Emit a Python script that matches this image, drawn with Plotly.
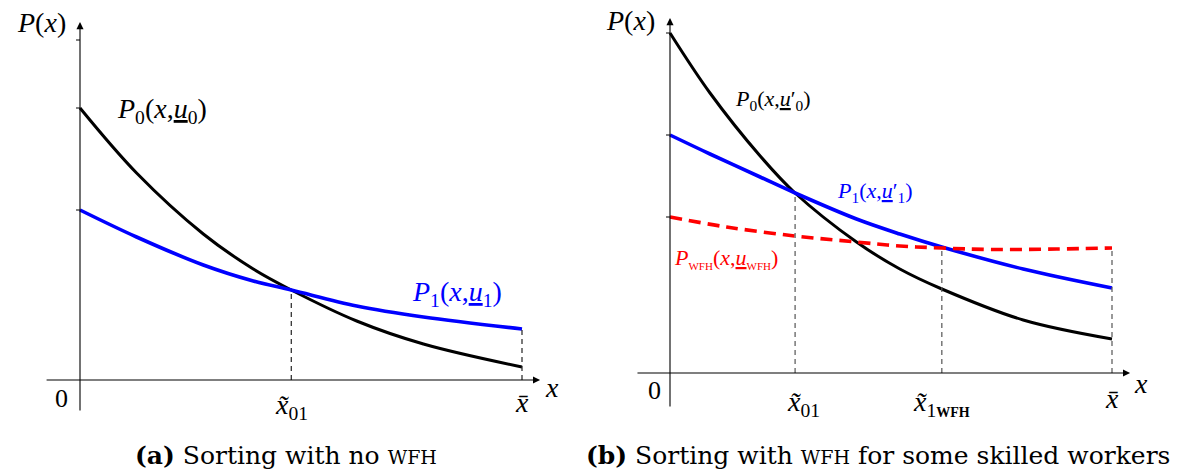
import plotly.graph_objects as go

# ---------------- data ----------------
# panel (a): x normalised so that x-bar = 1
a_x = [0, 0.128, 0.279, 0.392, 0.478, 0.626, 0.777, 1.0]
a_p0 = [2.72, 2.07, 1.46, 1.11, 0.90, 0.59, 0.36, 0.13]
a_p1 = [1.70, 1.43, 1.15, 0.99, 0.90, 0.74, 0.63, 0.51]
a_x01 = 0.478
a_ticks_y = [3.40, 2.72, 1.70]

# panel (b)
b_x = [0, 0.0905, 0.204, 0.283, 0.422, 0.520, 0.615, 0.799, 1.0]
b_p0 = [3.40, 2.80, 2.17, 1.80, 1.31, 1.04, 0.84, 0.53, 0.34]
b_p1 = [2.38, 2.19, 1.96, 1.80, 1.54, 1.39, 1.26, 1.04, 0.85]
b_xr = [0, 0.128, 0.283, 0.422, 0.520, 0.615, 0.724, 0.875, 1.0]
b_pw = [1.56, 1.46, 1.37, 1.31, 1.27, 1.25, 1.235, 1.24, 1.25]
b_x01 = 0.283
b_x1w = 0.615
b_ticks_y = [3.40, 2.38, 1.56]

W, H = 1181, 476
MATH = "Liberation Serif"
CAP = "DejaVu Serif"
BLUE = "rgb(0,0,255)"
RED = "rgb(255,0,0)"

fig = go.Figure()

# curves
fig.add_trace(go.Scatter(x=a_x, y=a_p0, mode="lines", line=dict(color="black", width=3, shape="spline"),
                         xaxis="x", yaxis="y", showlegend=False, hoverinfo="skip"))
fig.add_trace(go.Scatter(x=a_x, y=a_p1, mode="lines", line=dict(color=BLUE, width=3.6, shape="spline"),
                         xaxis="x", yaxis="y", showlegend=False, hoverinfo="skip"))
fig.add_trace(go.Scatter(x=b_x, y=b_p0, mode="lines", line=dict(color="black", width=3, shape="spline"),
                         xaxis="x2", yaxis="y2", showlegend=False, hoverinfo="skip"))
fig.add_trace(go.Scatter(x=b_x, y=b_p1, mode="lines", line=dict(color=BLUE, width=3.6, shape="spline"),
                         xaxis="x2", yaxis="y2", showlegend=False, hoverinfo="skip"))
fig.add_trace(go.Scatter(x=b_xr, y=b_pw, mode="lines",
                         line=dict(color=RED, width=3.6, shape="spline", dash="12px,7px"),
                         xaxis="x2", yaxis="y2", showlegend=False, hoverinfo="skip"))

shapes = []
annotations = []


def vdash(xr, yr, x, ytop, color):
    shapes.append(dict(type="line", xref=xr, yref=yr, x0=x, x1=x, y0=0, y1=ytop,
                       line=dict(color=color, width=1.2, dash="5px,4px")))


def axis_arrows(xr, yr, x0, x1, y0, y1):
    annotations.append(dict(xref=xr, yref=yr, axref=xr, ayref=yr, x=x1, y=0, ax=x0, ay=0,
                            text="", showarrow=True, arrowhead=2, arrowsize=1.3, arrowwidth=1.1,
                            arrowcolor="black", standoff=0, startstandoff=0))
    annotations.append(dict(xref=xr, yref=yr, axref=xr, ayref=yr, x=0, y=y1, ax=0, ay=y0,
                            text="", showarrow=True, arrowhead=2, arrowsize=1.3, arrowwidth=1.1,
                            arrowcolor="black", standoff=0, startstandoff=0))


def ticks(xr, yr, ys):
    for yv in ys:
        shapes.append(dict(type="line", xref=xr, yref=yr, x0=-0.009, x1=0, y0=yv, y1=yv,
                           line=dict(color="black", width=1)))


def label(xr, yr, x, y, txt, size, color="black", xanchor="center", yanchor="middle"):
    annotations.append(dict(xref=xr, yref=yr, x=x, y=y, text=txt, showarrow=False,
                            xanchor=xanchor, yanchor=yanchor,
                            font=dict(family=MATH, size=size, color=color)))


# ---- panel (a) ----
vdash("x", "y", a_x01, a_p1[a_x.index(a_x01)], "#222")
vdash("x", "y", 1.0, a_p1[-1], "#222")
ticks("x", "y", a_ticks_y)
axis_arrows("x", "y", -0.079, 1.041, -0.32, 3.58)
label("x", "y", -0.027, 3.58, "<i>P</i>(<i>x</i>)", 28, xanchor="right")
label("x", "y", -0.041, -0.18, "0", 26)
label("x", "y", a_x01, -0.26, "<i>x\u0303</i><sub>01</sub>", 28)
label("x", "y", 1.0, -0.22, "<i>x\u0304</i>", 28)
label("x", "y", 1.068, -0.07, "<i>x</i>", 28)
label("x", "y", 0.079, 2.70, "<i>P</i><sub>0</sub>(<i>x</i>,<i><u>u</u></i><sub>0</sub>)", 28, xanchor="left")
label("x", "y", 0.747, 0.87, "<i>P</i><sub>1</sub>(<i>x</i>,<i><u>u</u></i><sub>1</sub>)", 28, color=BLUE,
      xanchor="left")

# ---- panel (b) ----
vdash("x2", "y2", b_x01, b_p1[b_x.index(b_x01)], "#555")
vdash("x2", "y2", b_x1w, b_pw[b_xr.index(b_x1w)], "#555")
vdash("x2", "y2", 1.0, b_pw[-1], "#555")
ticks("x2", "y2", b_ticks_y)
axis_arrows("x2", "y2", -0.077, 1.041, -0.35, 3.55)
label("x2", "y2", -0.029, 3.53, "<i>P</i>(<i>x</i>)", 28, xanchor="right")
label("x2", "y2", -0.034, -0.17, "0", 26)
label("x2", "y2", 0.303, -0.30, "<i>x\u0303</i><sub>01</sub>", 28)
label("x2", "y2", b_x1w, -0.30,
      "<i>x\u0303</i><sub>1<b><span style='font-size:14px'>WFH</span></b></sub>", 28)
label("x2", "y2", 1.0, -0.25, "<i>x\u0304</i>", 28)
label("x2", "y2", 1.066, -0.10, "<i>x</i>", 28)
label("x2", "y2", 0.143, 2.73, "<i>P</i><sub>0</sub>(<i>x</i>,<i><u>u</u></i>\u2032<sub>0</sub>)", 22,
      xanchor="left")
label("x2", "y2", 0.373, 1.81, "<i>P</i><sub>1</sub>(<i>x</i>,<i><u>u</u></i>\u2032<sub>1</sub>)", 22,
      color=BLUE, xanchor="left")
label("x2", "y2", 0.005, 1.15,
      "<i>P</i><sub><span style='font-size:11px'>WFH</span></sub>(<i>x</i>,<i><u>u</u></i>"
      "<sub><span style='font-size:11px'>WFH</span></sub>)", 22, color=RED, xanchor="left")

# captions
annotations.append(dict(xref="paper", yref="paper", x=286 / W, y=1 - 455 / H, showarrow=False,
                        text="<b>(a)</b> Sorting with no <span style='font-size:19px'>WFH</span>",
                        font=dict(family=CAP, size=25, color="black"), xanchor="center", yanchor="middle"))
annotations.append(dict(xref="paper", yref="paper", x=878 / W, y=1 - 455 / H, showarrow=False,
                        text="<b>(b)</b> Sorting with <span style='font-size:19px'>WFH</span> for some skilled workers",
                        font=dict(family=CAP, size=25, color="black"), xanchor="center", yanchor="middle"))

split = 590 / W
hidden = dict(visible=False, showgrid=False, zeroline=False, fixedrange=True)
fig.update_layout(
    width=W, height=H,
    margin=dict(l=0, r=0, t=0, b=0),
    paper_bgcolor="white", plot_bgcolor="white",
    xaxis=dict(domain=[0, split], range=[(0 - 80) / 442, (590 - 80) / 442], **hidden),
    yaxis=dict(domain=[0, 1], range=[(380 - 476) / 100, 380 / 100], **hidden),
    xaxis2=dict(domain=[split, 1], range=[(590 - 670) / 442, (1181 - 670) / 442], **hidden),
    yaxis2=dict(domain=[0, 1], range=[(373 - 476) / 100, 373 / 100], anchor="x2", **hidden),
    shapes=shapes,
    annotations=annotations,
)

fig.write_html("out.html", config={"displayModeBar": False},
               post_script="document.body.style.margin='0';document.body.style.overflow='hidden';")
